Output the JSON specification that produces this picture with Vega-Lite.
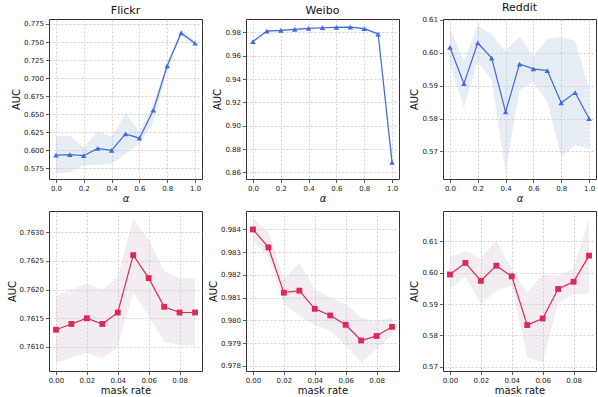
{
  "$schema": "https://vega.github.io/schema/vega-lite/v6.json",
  "background": "white",
  "padding": {"left": 6, "top": 1, "right": 0, "bottom": 0},
  "bounds": "flush",
  "columns": 3,
  "spacing": {"row": 32, "column": 44},
  "config": {
    "font": "DejaVu Sans",
    "view": {"stroke": "#333333", "strokeWidth": 1},
    "axis": {"gridDash": [2, 2], "gridColor": "#bdbdbd", "gridWidth": 0.7, "gridOpacity": 1, "domain": false, "tickColor": "#333333", "tickSize": 3.5, "tickWidth": 0.8, "labelFontSize": 7, "labelColor": "#222222", "titleFontSize": 10, "titleFontWeight": "normal", "titleColor": "#111111", "labelPadding": 2, "titlePadding": 2},
    "title": {"fontSize": 11, "fontWeight": "normal", "offset": 3, "color": "#111111"}
  },
  "datasets": {
    "alpha": [
      {"ds": "Flickr", "x": 0.0, "y": 0.5934, "lo": 0.569, "hi": 0.6196},
      {"ds": "Flickr", "x": 0.1, "y": 0.5939, "lo": 0.569, "hi": 0.620},
      {"ds": "Flickr", "x": 0.2, "y": 0.5925, "lo": 0.5796, "hi": 0.604},
      {"ds": "Flickr", "x": 0.3, "y": 0.6026, "lo": 0.5796, "hi": 0.6265},
      {"ds": "Flickr", "x": 0.4, "y": 0.5998, "lo": 0.581, "hi": 0.6187},
      {"ds": "Flickr", "x": 0.5, "y": 0.6228, "lo": 0.5948, "hi": 0.6509},
      {"ds": "Flickr", "x": 0.6, "y": 0.6168, "lo": 0.609, "hi": 0.626},
      {"ds": "Flickr", "x": 0.7, "y": 0.6555, "lo": 0.639, "hi": 0.6646},
      {"ds": "Flickr", "x": 0.8, "y": 0.7171, "lo": 0.7106, "hi": 0.722},
      {"ds": "Flickr", "x": 0.9, "y": 0.7626, "lo": 0.759, "hi": 0.768},
      {"ds": "Flickr", "x": 1.0, "y": 0.7483, "lo": 0.745, "hi": 0.752},
      {"ds": "Weibo", "x": 0.0, "y": 0.9722, "lo": 0.9712, "hi": 0.9732},
      {"ds": "Weibo", "x": 0.1, "y": 0.9811, "lo": 0.9803, "hi": 0.9819},
      {"ds": "Weibo", "x": 0.2, "y": 0.9817, "lo": 0.9810, "hi": 0.9824},
      {"ds": "Weibo", "x": 0.3, "y": 0.9826, "lo": 0.9819, "hi": 0.9833},
      {"ds": "Weibo", "x": 0.4, "y": 0.9834, "lo": 0.9827, "hi": 0.9841},
      {"ds": "Weibo", "x": 0.5, "y": 0.9840, "lo": 0.9833, "hi": 0.9847},
      {"ds": "Weibo", "x": 0.6, "y": 0.9843, "lo": 0.9836, "hi": 0.9850},
      {"ds": "Weibo", "x": 0.7, "y": 0.9846, "lo": 0.9839, "hi": 0.9853},
      {"ds": "Weibo", "x": 0.8, "y": 0.9832, "lo": 0.9824, "hi": 0.9840},
      {"ds": "Weibo", "x": 0.9, "y": 0.9786, "lo": 0.9774, "hi": 0.9798},
      {"ds": "Weibo", "x": 1.0, "y": 0.8686, "lo": 0.8606, "hi": 0.8766},
      {"ds": "Reddit", "x": 0.0, "y": 0.6017, "lo": 0.5963, "hi": 0.6075},
      {"ds": "Reddit", "x": 0.1, "y": 0.5906, "lo": 0.5833, "hi": 0.5975},
      {"ds": "Reddit", "x": 0.2, "y": 0.6030, "lo": 0.5973, "hi": 0.6083},
      {"ds": "Reddit", "x": 0.3, "y": 0.5984, "lo": 0.5917, "hi": 0.6056},
      {"ds": "Reddit", "x": 0.4, "y": 0.5820, "lo": 0.5636, "hi": 0.6005},
      {"ds": "Reddit", "x": 0.5, "y": 0.5966, "lo": 0.5886, "hi": 0.6049},
      {"ds": "Reddit", "x": 0.6, "y": 0.5951, "lo": 0.5912, "hi": 0.5991},
      {"ds": "Reddit", "x": 0.7, "y": 0.5946, "lo": 0.5850, "hi": 0.6042},
      {"ds": "Reddit", "x": 0.8, "y": 0.5848, "lo": 0.5683, "hi": 0.6049},
      {"ds": "Reddit", "x": 0.9, "y": 0.5879, "lo": 0.5719, "hi": 0.6037},
      {"ds": "Reddit", "x": 1.0, "y": 0.5800, "lo": 0.5708, "hi": 0.5893}
    ],
    "mask": [
      {"ds": "Flickr", "x": 0.00, "y": 0.7613, "lo": 0.76072, "hi": 0.76189},
      {"ds": "Flickr", "x": 0.01, "y": 0.7614, "lo": 0.76081, "hi": 0.7620},
      {"ds": "Flickr", "x": 0.02, "y": 0.7615, "lo": 0.7609, "hi": 0.7621},
      {"ds": "Flickr", "x": 0.03, "y": 0.7614, "lo": 0.7608, "hi": 0.7620},
      {"ds": "Flickr", "x": 0.04, "y": 0.7616, "lo": 0.7610, "hi": 0.76222},
      {"ds": "Flickr", "x": 0.05, "y": 0.7626, "lo": 0.76195, "hi": 0.76324},
      {"ds": "Flickr", "x": 0.06, "y": 0.7622, "lo": 0.76154, "hi": 0.76287},
      {"ds": "Flickr", "x": 0.07, "y": 0.7617, "lo": 0.76109, "hi": 0.76232},
      {"ds": "Flickr", "x": 0.08, "y": 0.7616, "lo": 0.76103, "hi": 0.7622},
      {"ds": "Flickr", "x": 0.09, "y": 0.7616, "lo": 0.76102, "hi": 0.7622},
      {"ds": "Weibo", "x": 0.00, "y": 0.9840, "lo": 0.98351, "hi": 0.9845},
      {"ds": "Weibo", "x": 0.01, "y": 0.98321, "lo": 0.98278, "hi": 0.98388},
      {"ds": "Weibo", "x": 0.02, "y": 0.98122, "lo": 0.98072, "hi": 0.98182},
      {"ds": "Weibo", "x": 0.03, "y": 0.98131, "lo": 0.98022, "hi": 0.98251},
      {"ds": "Weibo", "x": 0.04, "y": 0.98051, "lo": 0.97978, "hi": 0.98138},
      {"ds": "Weibo", "x": 0.05, "y": 0.98022, "lo": 0.97956, "hi": 0.98101},
      {"ds": "Weibo", "x": 0.06, "y": 0.97981, "lo": 0.9789, "hi": 0.98072},
      {"ds": "Weibo", "x": 0.07, "y": 0.97912, "lo": 0.97815, "hi": 0.98013},
      {"ds": "Weibo", "x": 0.08, "y": 0.97932, "lo": 0.97874, "hi": 0.97996},
      {"ds": "Weibo", "x": 0.09, "y": 0.97972, "lo": 0.97937, "hi": 0.98013},
      {"ds": "Reddit", "x": 0.00, "y": 0.5994, "lo": 0.5949, "hi": 0.6048},
      {"ds": "Reddit", "x": 0.01, "y": 0.6031, "lo": 0.5988, "hi": 0.6068},
      {"ds": "Reddit", "x": 0.02, "y": 0.5974, "lo": 0.5902, "hi": 0.6045},
      {"ds": "Reddit", "x": 0.03, "y": 0.6022, "lo": 0.5941, "hi": 0.6101},
      {"ds": "Reddit", "x": 0.04, "y": 0.5988, "lo": 0.5960, "hi": 0.6012},
      {"ds": "Reddit", "x": 0.05, "y": 0.5833, "lo": 0.5730, "hi": 0.5937},
      {"ds": "Reddit", "x": 0.06, "y": 0.5854, "lo": 0.5714, "hi": 0.5994},
      {"ds": "Reddit", "x": 0.07, "y": 0.5948, "lo": 0.5904, "hi": 0.5990},
      {"ds": "Reddit", "x": 0.08, "y": 0.5971, "lo": 0.5932, "hi": 0.6012},
      {"ds": "Reddit", "x": 0.09, "y": 0.6054, "lo": 0.5934, "hi": 0.6174}
    ]
  },
  "concat": [
    {
      "width": 153, "height": 160,
      "title": "Flickr",
      "data": {"name": "alpha"},
      "transform": [{"filter": "datum.ds === 'Flickr'"}],
      "encoding": {"x": {"field": "x", "type": "quantitative", "scale": {"domain": [-0.05, 1.05], "nice": false, "zero": false}, "axis": {"values": [0, 0.2, 0.4, 0.6, 0.8, 1.0], "format": ".1f", "title": "α", "titleFontStyle": "italic"}}},
      "layer": [
        {"mark": {"type": "area", "color": "#b0c4de", "opacity": 0.3}, "encoding": {"y": {"field": "lo", "type": "quantitative", "scale": {"domain": [0.5602, 0.7819], "nice": false, "zero": false}, "axis": {"values": [0.575, 0.6, 0.625, 0.65, 0.675, 0.7, 0.725, 0.75, 0.775], "format": ".3f", "title": "AUC"}}, "y2": {"field": "hi"}}},
        {"mark": {"type": "line", "color": "#4169e1", "strokeWidth": 1.2}, "encoding": {"y": {"field": "y", "type": "quantitative", "scale": {"domain": [0.5602, 0.7819], "nice": false, "zero": false}, "axis": {"values": [0.575, 0.6, 0.625, 0.65, 0.675, 0.7, 0.725, 0.75, 0.775], "format": ".3f", "title": "AUC"}}}},
        {"mark": {"type": "point", "shape": "triangle-up", "filled": true, "size": 30, "color": "#4169e1", "opacity": 1}, "encoding": {"y": {"field": "y", "type": "quantitative", "scale": {"domain": [0.5602, 0.7819], "nice": false, "zero": false}, "axis": {"values": [0.575, 0.6, 0.625, 0.65, 0.675, 0.7, 0.725, 0.75, 0.775], "format": ".3f", "title": "AUC"}}}}
      ]
    },
    {
      "width": 153, "height": 160,
      "title": "Weibo",
      "data": {"name": "alpha"},
      "transform": [{"filter": "datum.ds === 'Weibo'"}],
      "encoding": {"x": {"field": "x", "type": "quantitative", "scale": {"domain": [-0.05, 1.05], "nice": false, "zero": false}, "axis": {"values": [0, 0.2, 0.4, 0.6, 0.8, 1.0], "format": ".1f", "title": "α", "titleFontStyle": "italic"}}},
      "layer": [
        {"mark": {"type": "area", "color": "#b0c4de", "opacity": 0.3}, "encoding": {"y": {"field": "lo", "type": "quantitative", "scale": {"domain": [0.8543, 0.9915], "nice": false, "zero": false}, "axis": {"values": [0.86, 0.88, 0.9, 0.92, 0.94, 0.96, 0.98], "format": ".2f", "title": "AUC"}}, "y2": {"field": "hi"}}},
        {"mark": {"type": "line", "color": "#4169e1", "strokeWidth": 1.2}, "encoding": {"y": {"field": "y", "type": "quantitative", "scale": {"domain": [0.8543, 0.9915], "nice": false, "zero": false}, "axis": {"values": [0.86, 0.88, 0.9, 0.92, 0.94, 0.96, 0.98], "format": ".2f", "title": "AUC"}}}},
        {"mark": {"type": "point", "shape": "triangle-up", "filled": true, "size": 30, "color": "#4169e1", "opacity": 1}, "encoding": {"y": {"field": "y", "type": "quantitative", "scale": {"domain": [0.8543, 0.9915], "nice": false, "zero": false}, "axis": {"values": [0.86, 0.88, 0.9, 0.92, 0.94, 0.96, 0.98], "format": ".2f", "title": "AUC"}}}}
      ]
    },
    {
      "width": 153, "height": 160,
      "title": "Reddit",
      "data": {"name": "alpha"},
      "transform": [{"filter": "datum.ds === 'Reddit'"}],
      "encoding": {"x": {"field": "x", "type": "quantitative", "scale": {"domain": [-0.05, 1.05], "nice": false, "zero": false}, "axis": {"values": [0, 0.2, 0.4, 0.6, 0.8, 1.0], "format": ".1f", "title": "α", "titleFontStyle": "italic"}}},
      "layer": [
        {"mark": {"type": "area", "color": "#b0c4de", "opacity": 0.3}, "encoding": {"y": {"field": "lo", "type": "quantitative", "scale": {"domain": [0.5616, 0.6103], "nice": false, "zero": false}, "axis": {"values": [0.57, 0.58, 0.59, 0.6, 0.61], "format": ".2f", "title": "AUC"}}, "y2": {"field": "hi"}}},
        {"mark": {"type": "line", "color": "#4169e1", "strokeWidth": 1.2}, "encoding": {"y": {"field": "y", "type": "quantitative", "scale": {"domain": [0.5616, 0.6103], "nice": false, "zero": false}, "axis": {"values": [0.57, 0.58, 0.59, 0.6, 0.61], "format": ".2f", "title": "AUC"}}}},
        {"mark": {"type": "point", "shape": "triangle-up", "filled": true, "size": 30, "color": "#4169e1", "opacity": 1}, "encoding": {"y": {"field": "y", "type": "quantitative", "scale": {"domain": [0.5616, 0.6103], "nice": false, "zero": false}, "axis": {"values": [0.57, 0.58, 0.59, 0.6, 0.61], "format": ".2f", "title": "AUC"}}}}
      ]
    },
    {
      "width": 153, "height": 160,
      "data": {"name": "mask"},
      "transform": [{"filter": "datum.ds === 'Flickr'"}],
      "encoding": {"x": {"field": "x", "type": "quantitative", "scale": {"domain": [-0.0045, 0.0945], "nice": false, "zero": false}, "axis": {"values": [0, 0.02, 0.04, 0.06, 0.08], "format": ".2f", "title": "mask rate"}}},
      "layer": [
        {"mark": {"type": "area", "color": "#d8bfd8", "opacity": 0.3}, "encoding": {"y": {"field": "lo", "type": "quantitative", "scale": {"domain": [0.76058, 0.76337], "nice": false, "zero": false}, "axis": {"values": [0.761, 0.7615, 0.762, 0.7625, 0.763], "format": ".4f", "title": "AUC"}}, "y2": {"field": "hi"}}},
        {"mark": {"type": "line", "color": "#dc2a56", "strokeWidth": 1.2}, "encoding": {"y": {"field": "y", "type": "quantitative", "scale": {"domain": [0.76058, 0.76337], "nice": false, "zero": false}, "axis": {"values": [0.761, 0.7615, 0.762, 0.7625, 0.763], "format": ".4f", "title": "AUC"}}}},
        {"mark": {"type": "point", "shape": "square", "filled": true, "size": 34, "color": "#dc2a56", "opacity": 1}, "encoding": {"y": {"field": "y", "type": "quantitative", "scale": {"domain": [0.76058, 0.76337], "nice": false, "zero": false}, "axis": {"values": [0.761, 0.7615, 0.762, 0.7625, 0.763], "format": ".4f", "title": "AUC"}}}}
      ]
    },
    {
      "width": 153, "height": 160,
      "data": {"name": "mask"},
      "transform": [{"filter": "datum.ds === 'Weibo'"}],
      "encoding": {"x": {"field": "x", "type": "quantitative", "scale": {"domain": [-0.0045, 0.0945], "nice": false, "zero": false}, "axis": {"values": [0, 0.02, 0.04, 0.06, 0.08], "format": ".2f", "title": "mask rate"}}},
      "layer": [
        {"mark": {"type": "area", "color": "#d8bfd8", "opacity": 0.3}, "encoding": {"y": {"field": "lo", "type": "quantitative", "scale": {"domain": [0.97778, 0.98481], "nice": false, "zero": false}, "axis": {"values": [0.978, 0.979, 0.98, 0.981, 0.982, 0.983, 0.984], "format": ".3f", "title": "AUC"}}, "y2": {"field": "hi"}}},
        {"mark": {"type": "line", "color": "#dc2a56", "strokeWidth": 1.2}, "encoding": {"y": {"field": "y", "type": "quantitative", "scale": {"domain": [0.97778, 0.98481], "nice": false, "zero": false}, "axis": {"values": [0.978, 0.979, 0.98, 0.981, 0.982, 0.983, 0.984], "format": ".3f", "title": "AUC"}}}},
        {"mark": {"type": "point", "shape": "square", "filled": true, "size": 34, "color": "#dc2a56", "opacity": 1}, "encoding": {"y": {"field": "y", "type": "quantitative", "scale": {"domain": [0.97778, 0.98481], "nice": false, "zero": false}, "axis": {"values": [0.978, 0.979, 0.98, 0.981, 0.982, 0.983, 0.984], "format": ".3f", "title": "AUC"}}}}
      ]
    },
    {
      "width": 153, "height": 160,
      "data": {"name": "mask"},
      "transform": [{"filter": "datum.ds === 'Reddit'"}],
      "encoding": {"x": {"field": "x", "type": "quantitative", "scale": {"domain": [-0.0045, 0.0945], "nice": false, "zero": false}, "axis": {"values": [0, 0.02, 0.04, 0.06, 0.08], "format": ".2f", "title": "mask rate"}}},
      "layer": [
        {"mark": {"type": "area", "color": "#d8bfd8", "opacity": 0.3}, "encoding": {"y": {"field": "lo", "type": "quantitative", "scale": {"domain": [0.5687, 0.6196], "nice": false, "zero": false}, "axis": {"values": [0.57, 0.58, 0.59, 0.6, 0.61], "format": ".2f", "title": "AUC"}}, "y2": {"field": "hi"}}},
        {"mark": {"type": "line", "color": "#dc2a56", "strokeWidth": 1.2}, "encoding": {"y": {"field": "y", "type": "quantitative", "scale": {"domain": [0.5687, 0.6196], "nice": false, "zero": false}, "axis": {"values": [0.57, 0.58, 0.59, 0.6, 0.61], "format": ".2f", "title": "AUC"}}}},
        {"mark": {"type": "point", "shape": "square", "filled": true, "size": 34, "color": "#dc2a56", "opacity": 1}, "encoding": {"y": {"field": "y", "type": "quantitative", "scale": {"domain": [0.5687, 0.6196], "nice": false, "zero": false}, "axis": {"values": [0.57, 0.58, 0.59, 0.6, 0.61], "format": ".2f", "title": "AUC"}}}}
      ]
    }
  ]
}
